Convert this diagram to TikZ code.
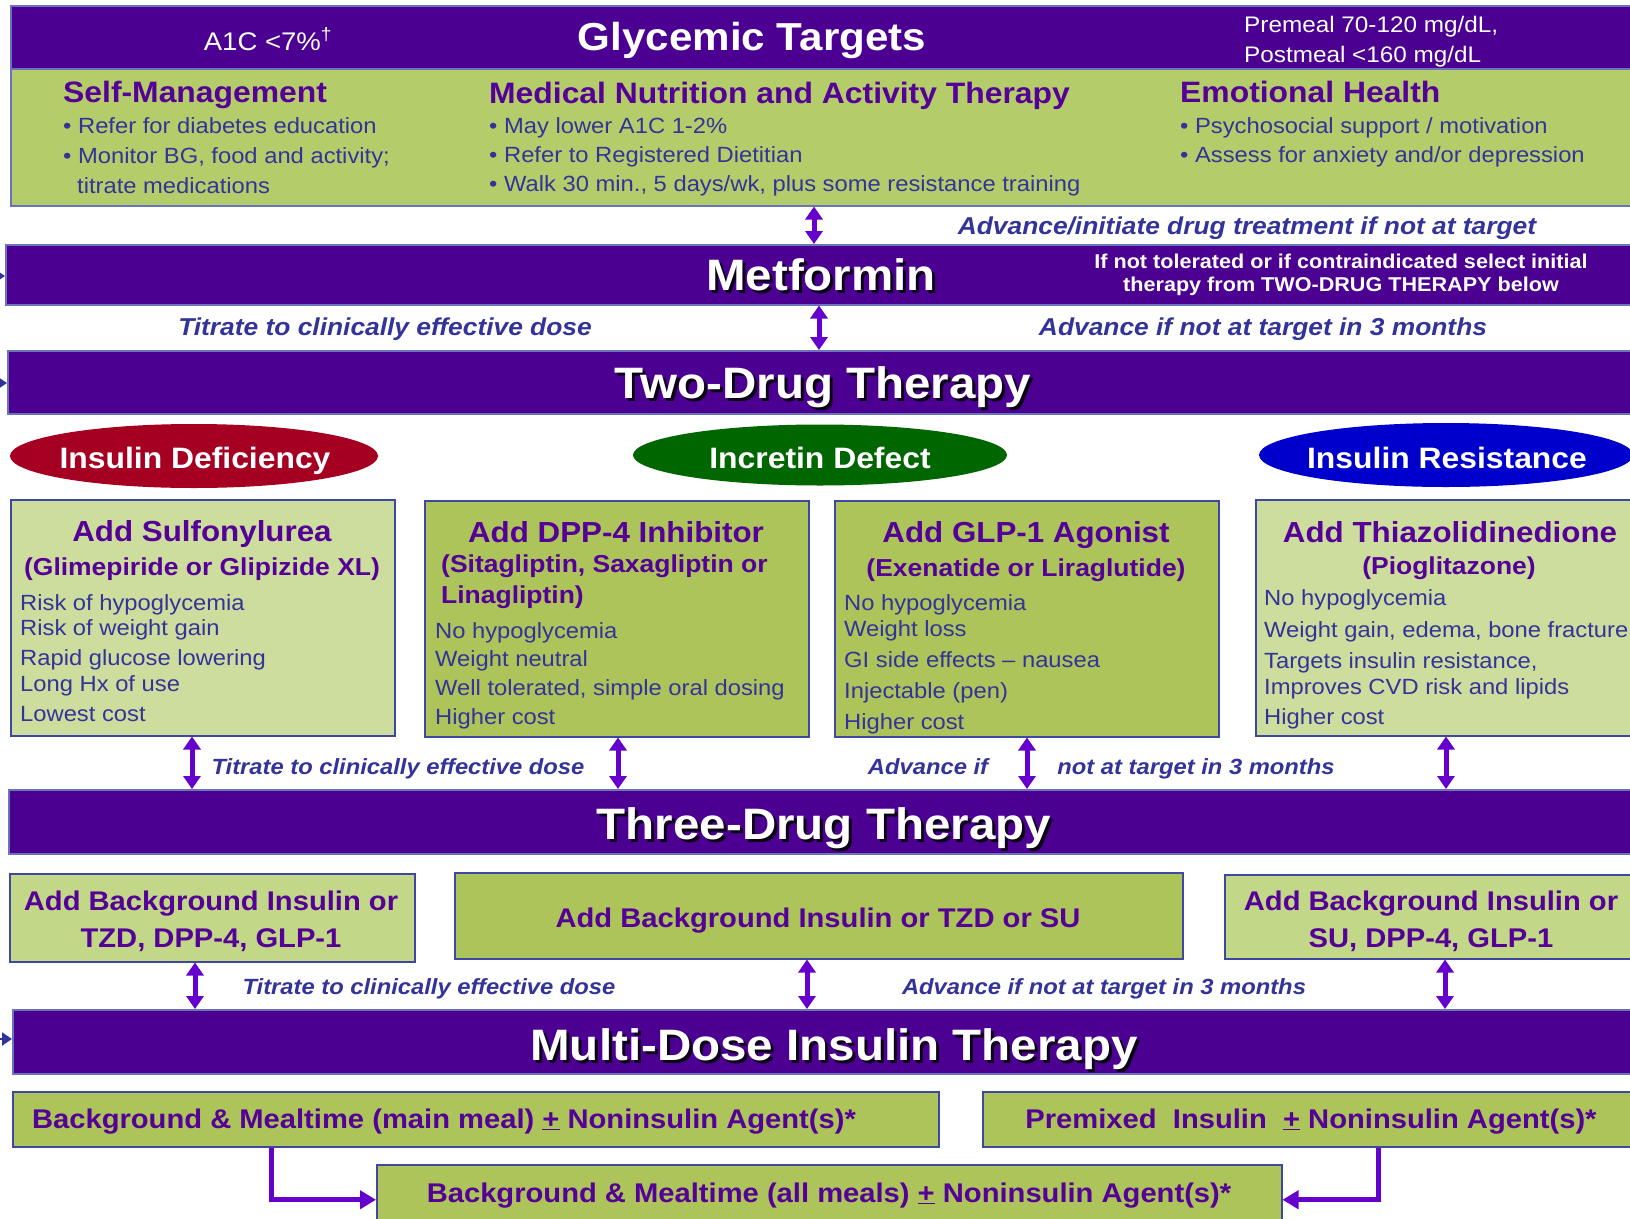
\documentclass[tikz,border=0pt]{standalone}
\usepackage{fontspec}
\setmainfont[FakeStretch=1.08]{Liberation Sans}
\usetikzlibrary{arrows.meta,shapes.geometric}
\definecolor{barpurple}{RGB}{75,0,145}
\definecolor{barline}{RGB}{105,115,190}
\definecolor{boxline}{RGB}{62,72,160}
\definecolor{topgreen}{RGB}{181,204,106}
\definecolor{lightgreen}{RGB}{205,221,157}
\definecolor{midgreen}{RGB}{194,215,135}
\definecolor{darkgreen}{RGB}{172,196,90}
\definecolor{headpurple}{RGB}{85,0,150}
\definecolor{bodyblue}{RGB}{51,51,153}
\definecolor{arrowviolet}{RGB}{102,0,204}
\definecolor{ellred}{RGB}{165,0,33}
\definecolor{ellgreen}{RGB}{0,102,0}
\definecolor{ellblue}{RGB}{0,0,204}
\begin{document}
\begin{tikzpicture}[x=1pt,y=-1pt,
 bar/.style={draw=barline, line width=1.5pt, fill=barpurple, inner sep=0pt, anchor=north west},
 gbox/.style={draw=boxline, line width=1.5pt, inner sep=0pt, anchor=north west},
 dbl/.style={draw=arrowviolet, line width=5pt, {Triangle[width=17pt,length=13pt]}-{Triangle[width=17pt,length=13pt]}},
 elb/.style={draw=arrowviolet, line width=5pt, -{Triangle[width=18pt,length=16pt]}},
 stub/.style={draw=bodyblue, line width=2pt, -{Triangle[width=13pt,length=10pt]}},
 bartitle/.style={font=\fontsize{44}{50}\selectfont\bfseries, text=white, anchor=base, inner sep=0pt},
 barshadow/.style={font=\fontsize{44}{50}\selectfont\bfseries, text=black, text opacity=0.85, anchor=base, inner sep=0pt},
 hd/.style={font=\fontsize{29.5}{34}\selectfont\bfseries, text=headpurple, anchor=base west, inner sep=0pt},
 bul/.style={font=\fontsize{22}{26}\selectfont, text=bodyblue, anchor=base west, inner sep=0pt},
 bxhd/.style={font=\fontsize{29}{34}\selectfont\bfseries, text=headpurple, anchor=base, inner sep=0pt},
 bxsub/.style={font=\fontsize{24.5}{29}\selectfont\bfseries, text=headpurple, anchor=base, inner sep=0pt},
 itm/.style={font=\fontsize{22}{26}\selectfont, text=bodyblue, anchor=base west, inner sep=0pt},
 lbl/.style={font=\fontsize{24.4}{29}\selectfont\bfseries\itshape, text=bodyblue, anchor=base, inner sep=0pt},
 lbls/.style={font=\fontsize{22}{26}\selectfont\bfseries\itshape, text=bodyblue, anchor=base, inner sep=0pt},
 ell/.style={ellipse, inner sep=0pt},
 elltxt/.style={font=\fontsize{29.5}{34}\selectfont\bfseries, text=white, anchor=base, inner sep=0pt},
 tdt/.style={font=\fontsize{27}{32}\selectfont\bfseries, text=headpurple, anchor=base, inner sep=0pt},
 wht/.style={text=white, inner sep=0pt}
]
\clip (0,0) rectangle (1630,1218);
\useasboundingbox (0,0) rectangle (1630,1218);
\fill[white] (0,0) rectangle (1630,1218);

% ---------- Glycemic targets ----------
\node[bar, minimum width=1640pt, minimum height=63pt] (gtbar) at (10,5) {};
\node[gbox, fill=topgreen, draw=barline, minimum width=1640pt, minimum height=137pt] (gtbox) at (10,68) {};
\node[font=\fontsize{39}{44}\selectfont\bfseries, text=white, anchor=base, inner sep=0pt] (gtt) at (752,50) {Glycemic Targets};
\node[font=\fontsize{25.5}{30}\selectfont, wht, anchor=base] (a1c) at (268,50) {A1C <7\%\textsuperscript{†}};
\node[font=\fontsize{22.5}{27}\selectfont, wht, anchor=base west] (pre) at (1244,32) {Premeal 70-120 mg/dL,};
\node[font=\fontsize{22.5}{27}\selectfont, wht, anchor=base west] (post) at (1244,62) {Postmeal <160 mg/dL};

\node[hd] (smh) at (63,102) {Self-Management};
\node[bul] (sm1) at (63,133) {• Refer for diabetes education};
\node[bul] (sm2) at (63,163) {• Monitor BG, food and activity;};
\node[bul] (sm3) at (77,193) {titrate medications};
\node[hd] (mnh) at (489,103) {Medical Nutrition and Activity Therapy};
\node[bul] (mn1) at (489,133) {• May lower A1C 1-2\%};
\node[bul] (mn2) at (489,162) {• Refer to Registered Dietitian};
\node[bul] (mn3) at (489,191) {• Walk 30 min., 5 days/wk, plus some resistance training};
\node[hd] (emh) at (1180,102) {Emotional Health};
\node[bul] (em1) at (1180,133) {• Psychosocial support / motivation};
\node[bul] (em2) at (1180,162) {• Assess for anxiety and/or depression};

% ---------- Metformin ----------
\node[lbl] (l1) at (1247,234) {Advance/initiate drug treatment if not at target};
\node[bar, minimum width=1640pt, minimum height=60pt] (metf) at (5,244) {};
\node[barshadow] (metfS) at (824,293) {Metformin};
\node[bartitle] (metfT) at (821,290) {Metformin};
\node[font=\fontsize{20}{24}\selectfont\bfseries, wht, anchor=base] (nt1) at (1341,268) {If not tolerated or if contraindicated select initial};
\node[font=\fontsize{20}{24}\selectfont\bfseries, wht, anchor=base] (nt2) at (1341,291) {therapy from TWO-DRUG THERAPY below};

\node[lbl] (l2) at (385,335) {Titrate to clinically effective dose};
\node[lbl] (l3) at (1263,335) {Advance if not at target in 3 months};

% ---------- Two-drug ----------
\node[bar, minimum width=1640pt, minimum height=63pt] (two) at (7,350) {};
\node[barshadow] (twoS) at (826,401) {Two-Drug Therapy};
\node[bartitle] (twoT) at (823,398) {Two-Drug Therapy};

\node[ell, fill=ellred, minimum width=368pt, minimum height=64pt] (e1) at (194,456) {};
\node[ell, fill=ellgreen, minimum width=374pt, minimum height=61pt] (e2) at (820,455) {};
\node[ell, fill=ellblue, minimum width=374pt, minimum height=64pt] (e3) at (1446,455) {};
\node[elltxt] (e1t) at (195,468) {Insulin Deficiency};
\node[elltxt] (e2t) at (820,468) {Incretin Defect};
\node[elltxt] (e3t) at (1447,468) {Insulin Resistance};

\node[gbox, fill=lightgreen, minimum width=384pt, minimum height=236pt] (b1) at (10,499) {};
\node[gbox, fill=darkgreen, minimum width=384pt, minimum height=236pt] (b2) at (424,500) {};
\node[gbox, fill=darkgreen, minimum width=384pt, minimum height=236pt] (b3) at (834,500) {};
\node[gbox, fill=lightgreen, minimum width=400pt, minimum height=236pt] (b4) at (1255,499) {};

\node[bxhd] (b1h) at (202,541) {Add Sulfonylurea};
\node[bxsub] (b1s) at (202,575) {(Glimepiride or Glipizide XL)};
\node[itm] (b1a) at (20,610) {Risk of hypoglycemia};
\node[itm] (b1b) at (20,635) {Risk of weight gain};
\node[itm] (b1c) at (20,665) {Rapid glucose lowering};
\node[itm] (b1d) at (20,691) {Long Hx of use};
\node[itm] (b1e) at (20,721) {Lowest cost};

\node[bxhd] (b2h) at (616,542) {Add DPP-4 Inhibitor};
\node[bxsub, anchor=base west] (b2s) at (441,572) {(Sitagliptin, Saxagliptin or};
\node[bxsub, anchor=base west] (b2t) at (441,603) {Linagliptin)};
\node[itm] (b2a) at (435,638) {No hypoglycemia};
\node[itm] (b2b) at (435,666) {Weight neutral};
\node[itm] (b2c) at (435,695) {Well tolerated, simple oral dosing};
\node[itm] (b2d) at (435,724) {Higher cost};

\node[bxhd] (b3h) at (1026,542) {Add GLP-1 Agonist};
\node[bxsub] (b3s) at (1026,576) {(Exenatide or Liraglutide)};
\node[itm] (b3a) at (844,610) {No hypoglycemia};
\node[itm] (b3b) at (844,636) {Weight loss};
\node[itm] (b3c) at (844,667) {GI side effects – nausea};
\node[itm] (b3d) at (844,698) {Injectable (pen)};
\node[itm] (b3e) at (844,729) {Higher cost};

\node[bxhd] (b4h) at (1450,542) {Add Thiazolidinedione};
\node[bxsub] (b4s) at (1449,574) {(Pioglitazone)};
\node[itm] (b4a) at (1264,605) {No hypoglycemia};
\node[itm] (b4b) at (1264,637) {Weight gain, edema, bone fracture};
\node[itm] (b4c) at (1264,668) {Targets insulin resistance,};
\node[itm] (b4d) at (1264,694) {Improves CVD risk and lipids};
\node[itm] (b4e) at (1264,724) {Higher cost};

\node[lbls] (l4) at (398,774) {Titrate to clinically effective dose};
\node[lbls] (l5) at (928,774) {Advance if};
\node[lbls] (l6) at (1196,774) {not at target in 3 months};

% ---------- Three-drug ----------
\node[bar, minimum width=1640pt, minimum height=64pt] (three) at (8,789) {};
\node[barshadow] (threeS) at (827,842) {Three-Drug Therapy};
\node[bartitle] (threeT) at (824,839) {Three-Drug Therapy};

\node[gbox, fill=midgreen, minimum width=405pt, minimum height=88pt] (b5) at (9,873) {};
\node[gbox, fill=darkgreen, minimum width=728pt, minimum height=86pt] (b6) at (454,872) {};
\node[gbox, fill=midgreen, minimum width=420pt, minimum height=84pt] (b7) at (1224,874) {};
\node[tdt] (b5a) at (211,910) {Add Background Insulin or};
\node[tdt] (b5b) at (211,947) {TZD, DPP-4, GLP-1};
\node[tdt] (b6a) at (818,927) {Add Background Insulin or TZD or SU};
\node[tdt] (b7a) at (1431,910) {Add Background Insulin or};
\node[tdt] (b7b) at (1431,947) {SU, DPP-4, GLP-1};

\node[lbls] (l7) at (429,994) {Titrate to clinically effective dose};
\node[lbls] (l8) at (1104,994) {Advance if not at target in 3 months};

% ---------- Multi-dose ----------
\node[bar, minimum width=1640pt, minimum height=64pt] (multi) at (12,1009) {};
\node[barshadow] (multiS) at (837,1063) {Multi-Dose Insulin Therapy};
\node[bartitle] (multiT) at (834,1060) {Multi-Dose Insulin Therapy};

\node[gbox, fill=darkgreen, minimum width=926pt, minimum height=55pt] (b8) at (12,1091) {};
\node[gbox, fill=darkgreen, minimum width=660pt, minimum height=55pt] (b9) at (982,1091) {};
\node[gbox, fill=darkgreen, minimum width=905pt, minimum height=70pt] (b10) at (376,1164) {};
\node[tdt] (b8a) at (444,1128) {Background \& Mealtime (main meal) \underline{+} Noninsulin Agent(s)*};
\node[tdt] (b9a) at (1311,1128) {Premixed\ \ Insulin\ \ \underline{+} Noninsulin Agent(s)*};
\node[tdt] (b10a) at (829,1202) {Background \& Mealtime (all meals) \underline{+} Noninsulin Agent(s)*};

% ---------- connectors ----------
\coordinate (xa1) at (814,0);
\coordinate (xa2) at (819,0);
\coordinate (xb1) at (192,0);
\coordinate (xb2) at (618,0);
\coordinate (xb3) at (1027,0);
\coordinate (xb4) at (1446,0);
\coordinate (xc1) at (195,0);
\coordinate (xc2) at (807,0);
\coordinate (xc3) at (1445,0);
\coordinate (xd1) at (271,0);
\coordinate (xd2) at (1378,0);
\draw[dbl] (xa1 |- gtbox.south) -- (xa1 |- metf.north);
\draw[dbl] (xa2 |- metf.south) -- (xa2 |- two.north);
\draw[dbl] (xb1 |- b1.south) -- (xb1 |- three.north);
\draw[dbl] (xb2 |- b2.south) -- (xb2 |- three.north);
\draw[dbl] (xb3 |- b3.south) -- (xb3 |- three.north);
\draw[dbl] (xb4 |- b4.south) -- (xb4 |- three.north);
\draw[dbl] (xc1 |- b5.south) -- (xc1 |- multi.north);
\draw[dbl] (xc2 |- b6.south) -- (xc2 |- multi.north);
\draw[dbl] (xc3 |- b7.south) -- (xc3 |- multi.north);
\draw[elb] (xd1 |- b8.south) |- (b10.west);
\draw[elb] (xd2 |- b9.south) |- (b10.east);

\coordinate (s1) at (-20,276);
\coordinate (s2) at (-20,383);
\coordinate (s3) at (-20,1039);
\draw[stub] (s1) -- (s1 -| metf.west);
\draw[stub] (s2) -- (s2 -| two.west);
\draw[stub] (s3) -- (s3 -| multi.west);
\end{tikzpicture}
\end{document}
